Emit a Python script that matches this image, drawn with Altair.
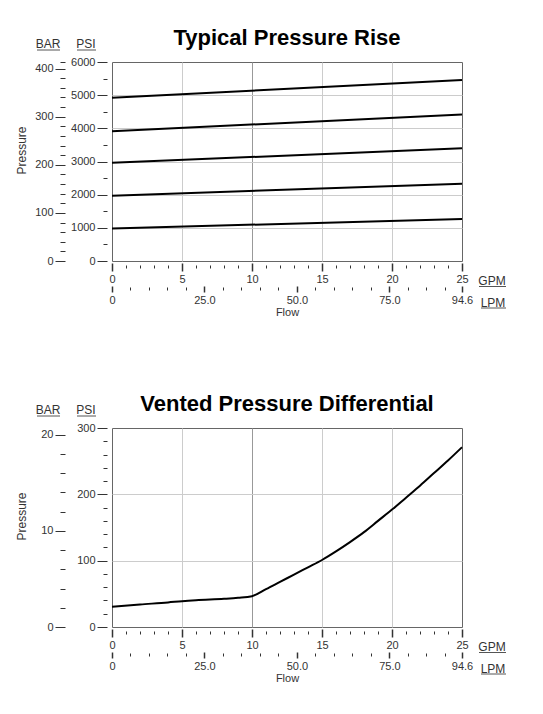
from __future__ import annotations

import altair as alt
import pandas as pd

FONT = "Liberation Sans"
INK = "#333333"
GRID = "#cccccc"
PSI_PER_BAR = 14.5038
LPM_PER_GPM = 3.78541
MAX_GPM = 25

PLOT_WIDTH = 350
PLOT_HEIGHT = 199

# Typical Pressure Rise: five straight settings, PSI read at 0 and 25 GPM
RISE_GPM = [0, 25]
RISE_PSI_AT_0 = [980, 1970, 2960, 3910, 4920]
RISE_PSI_AT_25 = [1265, 2330, 3400, 4420, 5460]

# Vented Pressure Differential curve
VENT_GPM = [0, 2, 4, 5, 6, 8, 9, 10, 11, 12, 13, 14, 15, 16, 17, 18, 19, 20, 21, 22, 23, 24, 25]
VENT_PSI = [30.5, 34, 37, 39, 40.5, 42.5, 44, 46.5, 57, 68, 79, 90, 101, 114, 128, 143, 160, 177, 195, 213, 232, 251, 271]

GPM_MAJOR = [0, 5, 10, 15, 20, 25]
GPM_MINOR = [v for v in range(1, 25) if v % 5]
GPM_GRID = [5, 10, 15, 20]
LPM_MAJOR = [0, 25, 50, 75, MAX_GPM * LPM_PER_GPM]
LPM_MINOR = [v for v in range(5, 95, 5) if v % 25]

RISE_PSI_MAJOR = list(range(0, 6001, 1000))
RISE_PSI_MINOR = list(range(500, 6000, 1000))
RISE_PSI_GRID = list(range(1000, 6000, 1000))
RISE_BAR_MAJOR = [0, 100, 200, 300, 400]
RISE_BAR_MINOR = [v for v in range(20, 420, 20) if v % 100] + [6000 / PSI_PER_BAR]

VENT_PSI_MAJOR = [0, 100, 200, 300]
VENT_PSI_MINOR = [v for v in range(20, 300, 20) if v % 100]
VENT_PSI_GRID = [100, 200]
VENT_BAR_MAJOR = [0, 10, 20]
VENT_BAR_MINOR = [2, 4, 6, 8, 12, 14, 16, 18]

UNIT_LABELS = ["BAR", "PSI", "GPM", "LPM"]


def _axis(orient, values, offset=0, tick=0, labels=False, tick_width=1, **extra):
    opts = dict(
        orient=orient,
        values=values,
        offset=offset,
        ticks=tick > 0,
        tickSize=tick,
        tickWidth=tick_width,
        tickColor=INK,
        labels=labels,
        labelFont=FONT,
        labelFontSize=11,
        labelColor=INK,
        labelFlush=False,
        labelOverlap=False,
        labelPadding=2,
        domain=False,
        grid=False,
        title=None,
    )
    opts.update(extra)
    return alt.Axis(**opts)


def _grid_axis(orient, values):
    return alt.Axis(
        orient=orient,
        values=values,
        grid=True,
        gridColor={"condition": {"test": "datum.value === 10", "value": "#999999"}, "value": GRID},
        gridWidth=1,
        ticks=False,
        labels=False,
        domain=False,
        title=None,
    )


def _unit_label(text, x, y, x1, x2, y_line):
    src = pd.DataFrame({"t": [text]})
    label = (
        alt.Chart(src)
        .mark_text(font=FONT, fontSize=12, color=INK, baseline="middle", align="center")
        .encode(x=alt.value(x), y=alt.value(y), text="t:N")
    )
    line = (
        alt.Chart(src)
        .mark_rule(color="#555555", strokeWidth=1)
        .encode(x=alt.value(x1), x2=alt.value(x2), y=alt.value(y_line))
    )
    return [label, line]


def build_panel(df, title, psi_max, psi_major, psi_minor, psi_grid, bar_major, bar_minor):
    df = df.copy()
    df["lpm"] = df["gpm"] * LPM_PER_GPM
    df["bar"] = df["psi"] / PSI_PER_BAR

    gpm_scale = alt.Scale(domain=[0, MAX_GPM], nice=False)
    lpm_scale = alt.Scale(domain=[0, MAX_GPM * LPM_PER_GPM], nice=False)
    psi_scale = alt.Scale(domain=[0, psi_max], nice=False)
    bar_scale = alt.Scale(domain=[0, psi_max / PSI_PER_BAR], nice=False)

    lines = (
        alt.Chart(df)
        .mark_line(color="black", strokeWidth=2, interpolate="monotone")
        .encode(
            x=alt.X("gpm:Q", scale=gpm_scale, axis=_grid_axis("bottom", GPM_GRID)),
            y=alt.Y("psi:Q", scale=psi_scale, axis=_grid_axis("left", psi_grid)),
            detail="series:N",
        )
    )

    ghost = alt.Chart(df).mark_point(opacity=0)
    psi_major_layer = ghost.encode(
        x=alt.X("gpm:Q", scale=gpm_scale,
                axis=_axis("bottom", GPM_MAJOR, offset=2, tick=8, labels=True, tick_width=1.5, format="d")),
        y=alt.Y("psi:Q", scale=psi_scale,
                axis=_axis("left", psi_major, offset=5, tick=10, labels=True, format="d")),
    )
    psi_minor_layer = ghost.encode(
        x=alt.X("gpm:Q", scale=gpm_scale, axis=_axis("bottom", GPM_MINOR, offset=4, tick=3)),
        y=alt.Y("psi:Q", scale=psi_scale, axis=_axis("left", psi_minor, offset=5, tick=4)),
    )
    bar_major_layer = ghost.encode(
        x=alt.X("lpm:Q", scale=lpm_scale,
                axis=_axis("bottom", LPM_MAJOR, offset=25, tick=6, labels=True, tick_width=1.5,
                           labelExpr="datum.value == 0 ? '0' : format(datum.value, '.1f')",
                           title="Flow", titleFont=FONT, titleFontSize=11, titleFontWeight="normal",
                           titleColor=INK, titlePadding=1)),
        y=alt.Y("bar:Q", scale=bar_scale,
                axis=_axis("left", bar_major, offset=47, tick=10, labels=True, format="d",
                           title="Pressure", titleFont=FONT, titleFontSize=12, titleFontWeight="normal",
                           titleColor=INK, titleX=-37, titleY=88)),
    )
    bar_minor_layer = ghost.encode(
        x=alt.X("lpm:Q", scale=lpm_scale, axis=_axis("bottom", LPM_MINOR, offset=26, tick=3)),
        y=alt.Y("bar:Q", scale=bar_scale, axis=_axis("left", bar_minor, offset=47, tick=5)),
    )

    units = []
    units += _unit_label(UNIT_LABELS[0], -64, -18, -75, -52, -12)
    units += _unit_label(UNIT_LABELS[1], -26, -18, -35, -16, -12)
    units += _unit_label(UNIT_LABELS[2], 380, 219, 367, 394, 224.5)
    units += _unit_label(UNIT_LABELS[3], 381, 240.5, 369, 394, 246)

    return (
        alt.layer(lines, psi_major_layer, psi_minor_layer, bar_major_layer, bar_minor_layer, *units)
        .resolve_scale(x="independent", y="independent")
        .properties(
            width=PLOT_WIDTH,
            height=PLOT_HEIGHT,
            title=alt.TitleParams(title, font=FONT, fontSize=22, fontWeight="bold", color="black",
                                  anchor="middle", frame="group", offset=-12),
        )
    )


rise_rows = []
for i, (a, b) in enumerate(zip(RISE_PSI_AT_0, RISE_PSI_AT_25)):
    for g, p in zip(RISE_GPM, [a, b]):
        rise_rows.append({"series": i, "gpm": g, "psi": p})
rise_df = pd.DataFrame(rise_rows)

vent_df = pd.DataFrame({"series": 0, "gpm": VENT_GPM, "psi": VENT_PSI})

top = build_panel(rise_df, "Typical Pressure Rise", 6000,
                  RISE_PSI_MAJOR, RISE_PSI_MINOR, RISE_PSI_GRID, RISE_BAR_MAJOR, RISE_BAR_MINOR)
bottom = build_panel(vent_df, "Vented Pressure Differential", 300,
                     VENT_PSI_MAJOR, VENT_PSI_MINOR, VENT_PSI_GRID, VENT_BAR_MAJOR, VENT_BAR_MINOR)

chart = (
    alt.vconcat(top, bottom, spacing=74)
    .properties(padding={"top": 18, "left": 6, "right": 5, "bottom": 5})
    .configure_view(stroke="#666666", strokeWidth=1)
)

chart.save("out.html", embed_options={"renderer": "svg", "actions": False})
